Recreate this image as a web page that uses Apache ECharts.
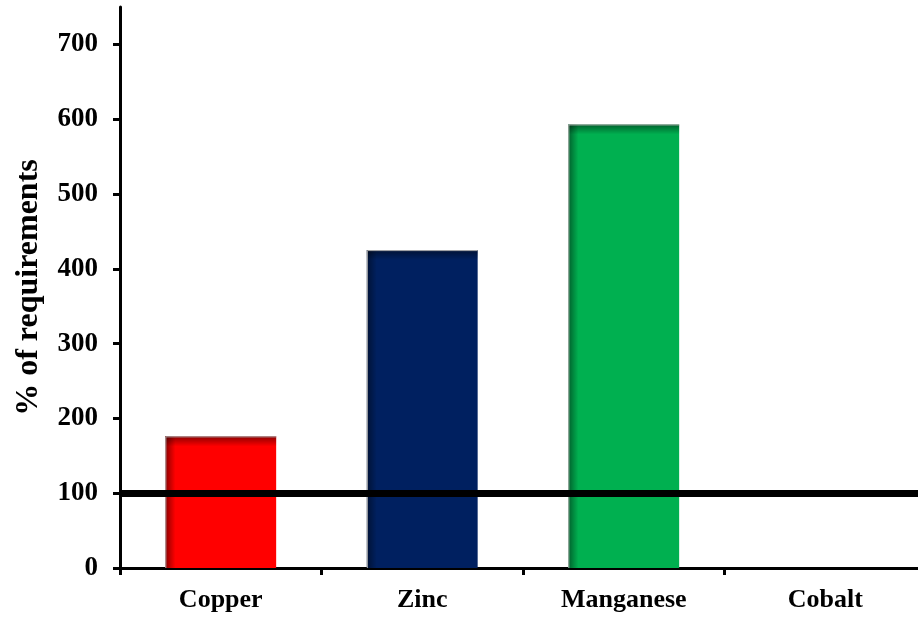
<!DOCTYPE html>
<html>
<head>
<meta charset="utf-8">
<script src="https://cdn.jsdelivr.net/npm/echarts@6/dist/echarts.min.js"></script>
<style>
  html, body { margin: 0; padding: 0; background: #fff; }
  #chart { width: 918px; height: 617px; }
</style>
</head>
<body>
<div id="chart"></div>
<script>
// Micronutrient supply as % of requirements
const categories = ['Copper', 'Zinc', 'Manganese', 'Cobalt'];
const values = [176, 425, 593, 0];
const barColors = ['#FF0000', '#002060', '#00B050', '#7F7F7F'];
const yTicks = [0, 100, 200, 300, 400, 500, 600, 700];
const requirementLine = 100;

const FONT = '"Liberation Serif", "Times New Roman", serif';

const chart = echarts.init(document.getElementById('chart'));

// Bars with a soft inner shade along the left and top edges
function renderBar(params, api) {
  const idx = api.value(0);
  const v = api.value(1);
  if (!v) return null;
  const top = api.coord([idx, v]);
  const base = api.coord([idx, 0]);
  const bw = api.size([1, 0])[0] * 0.55;
  const x = top[0] - bw / 2;
  const y = top[1];
  const h = base[1] - top[1];
  const shade = 10;
  const color = barColors[idx];
  return {
    type: 'group',
    children: [
      { type: 'rect', shape: { x: x, y: y, width: bw, height: h }, style: { fill: color } },
      {
        type: 'rect',
        shape: { x: x, y: y, width: shade, height: h },
        style: {
          fill: new echarts.graphic.LinearGradient(0, 0, 1, 0, [
            { offset: 0, color: 'rgba(0,0,0,0.45)' },
            { offset: 1, color: 'rgba(0,0,0,0)' }
          ])
        }
      },
      {
        type: 'rect',
        shape: { x: x, y: y, width: bw, height: shade },
        style: {
          fill: new echarts.graphic.LinearGradient(0, 0, 0, 1, [
            { offset: 0, color: 'rgba(0,0,0,0.45)' },
            { offset: 1, color: 'rgba(0,0,0,0)' }
          ])
        }
      },
      {
        type: 'polyline',
        shape: { points: [[x + 0.5, base[1]], [x + 0.5, y + 0.5], [x + bw, y + 0.5]] },
        style: { stroke: '#b0b0b0', lineWidth: 1, fill: null }
      }
    ]
  };
}

chart.setOption({
  animation: false,
  backgroundColor: '#fff',
  grid: { left: 120, right: -8, top: 7, bottom: 49, containLabel: false, outerBoundsMode: 'none' },
  xAxis: {
    type: 'category',
    data: categories,
    boundaryGap: true,
    axisLine: { show: true, lineStyle: { color: '#000', width: 3 } },
    axisTick: { show: true, length: 7, lineStyle: { color: '#000', width: 3 } },
    axisLabel: {
      color: '#000', fontFamily: FONT, fontWeight: 'bold', fontSize: 26, margin: 19
    },
    splitLine: { show: false }
  },
  yAxis: {
    type: 'value',
    min: 0,
    max: 750,
    interval: 100,
    name: '% of requirements',
    nameLocation: 'middle',
    nameRotate: 90,
    nameGap: 75,
    nameTextStyle: { color: '#000', fontFamily: FONT, fontWeight: 'bold', fontSize: 32 },
    axisLine: { show: true, lineStyle: { color: '#000', width: 3 } },
    axisTick: { show: true, length: 7, customValues: yTicks, lineStyle: { color: '#000', width: 3 } },
    axisLabel: {
      customValues: yTicks,
      color: '#000', fontFamily: FONT, fontWeight: 'bold', fontSize: 27, margin: 22
    },
    splitLine: { show: false }
  },
  series: [
    {
      type: 'custom',
      renderItem: renderBar,
      data: values.map((v, i) => [i, v]),
      encode: { x: 0, y: 1 },
      z: 2
    },
    {
      type: 'line',
      data: [],
      silent: true,
      markLine: {
        symbol: ['none', 'none'],
        silent: true,
        label: { show: false },
        lineStyle: { color: '#000', width: 7, type: 'solid' },
        data: [{ yAxis: requirementLine }]
      },
      z: 5
    }
  ]
});
</script>
</body>
</html>
